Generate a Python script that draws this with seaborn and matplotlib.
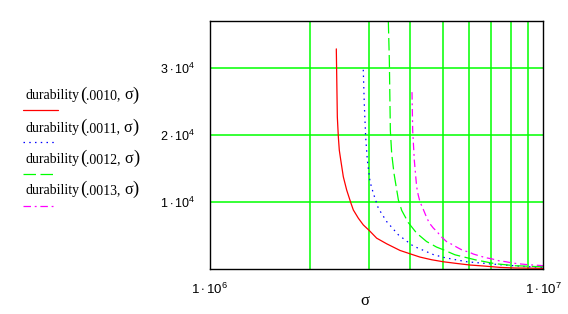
import matplotlib
matplotlib.use("Agg")
import numpy as np
import pandas as pd
import matplotlib.pyplot as plt
import seaborn as sns
from matplotlib.lines import Line2D
from matplotlib.offsetbox import TextArea, HPacker, AnchoredOffsetbox
from matplotlib.ticker import FixedLocator, FixedFormatter, NullFormatter

# ---------------- data ----------------
# sigma in units of 1e6, durability in units of 1e4
eps_labels = [".0010", ".0011", ".0012", ".0013"]

sigma_0010 = [2.395, 2.412, 2.429, 2.445, 2.47, 2.514, 2.543, 2.573, 2.651, 2.694,
              2.789, 2.886, 3.008, 3.166, 3.393, 3.72, 3.987, 4.27, 4.63, 5.02,
              5.5, 6.04, 6.62, 7.43, 8.25, 10.0]
dur_0010 = [3.284, 2.268, 1.97, 1.773, 1.624, 1.376, 1.278, 1.178, 0.98, 0.881,
            0.758, 0.658, 0.574, 0.46, 0.376, 0.277, 0.227, 0.178, 0.138, 0.108,
            0.083, 0.059, 0.045, 0.024, 0.015, 0.01]

sigma_0011 = [2.886, 2.906, 2.934, 2.968, 3.024, 3.094, 3.203, 3.393, 3.678, 4.079,
              4.686, 5.08, 5.9, 7.43, 8.92, 10.0]
dur_0011 = [2.972, 2.467, 1.97, 1.624, 1.302, 1.129, 0.906, 0.707, 0.51, 0.342,
            0.215, 0.168, 0.108, 0.064, 0.035, 0.025]

sigma_0012 = [3.432, 3.456, 3.48, 3.512, 3.569, 3.679, 3.765, 3.94, 4.174, 4.47,
              4.79, 5.02, 5.44, 6.25, 7.18, 8.25, 10.0]
dur_0012 = [3.70, 3.11, 2.07, 1.724, 1.426, 1.03, 0.874, 0.692, 0.535, 0.41,
            0.327, 0.287, 0.212, 0.138, 0.079, 0.049, 0.033]

sigma_0013 = [4.042, 4.061, 4.107, 4.174, 4.22, 4.27, 4.37, 4.44, 4.55, 4.686,
              4.8, 4.94, 5.13, 5.31, 5.53, 5.75, 6.0, 6.18, 6.47, 6.74,
              7.06, 7.37, 7.74, 8.1, 8.6, 9.04, 10.0]
dur_0013 = [2.639, 2.07, 1.624, 1.227, 1.104, 1.004, 0.89, 0.807, 0.69, 0.61,
            0.56, 0.485, 0.41, 0.371, 0.321, 0.276, 0.252, 0.223, 0.193, 0.168,
            0.148, 0.123, 0.108, 0.089, 0.074, 0.064, 0.05]

x_ticks = [1e6, 1e7]
x_tick_labels = [r"$1\cdot10^{6}$", r"$1\cdot10^{7}$"]
y_ticks = [1e4, 2e4, 3e4]
y_tick_labels = [r"$1\cdot10^{4}$", r"$2\cdot10^{4}$", r"$3\cdot10^{4}$"]

series = {
    ".0010": (sigma_0010, dur_0010),
    ".0011": (sigma_0011, dur_0011),
    ".0012": (sigma_0012, dur_0012),
    ".0013": (sigma_0013, dur_0013),
}
frames = []
for lab, (s, d) in series.items():
    frames.append(pd.DataFrame({"sigma": np.array(s) * 1e6,
                                "dur": np.array(d) * 1e4,
                                "eps": lab}))
df = pd.concat(frames, ignore_index=True)

colors = {".0010": "#FF0000", ".0011": "#0000FF", ".0012": "#00FF00", ".0013": "#FF00FF"}
dashes = {".0010": "", ".0011": (1.2, 3.4), ".0012": (10, 3.6), ".0013": (6, 3, 1.5, 3)}

# ---------------- style ----------------
sns.set_theme(style="white")
plt.rcParams["font.family"] = ["Liberation Sans", "DejaVu Sans"]
plt.rcParams["mathtext.fontset"] = "custom"
plt.rcParams["mathtext.rm"] = "Liberation Sans"
plt.rcParams["mathtext.it"] = "Liberation Sans:italic"
plt.rcParams["mathtext.bf"] = "Liberation Sans:bold"

W, H = 568, 314
fig = plt.figure(figsize=(W / 100, H / 100), dpi=100)
fig.patch.set_facecolor("white")
ax = fig.add_axes([210 / W, 1 - 269 / H, 333 / W, 248 / H])
ax.set_facecolor("white")

sns.lineplot(data=df, x="sigma", y="dur", hue="eps", style="eps",
             palette=colors, dashes=dashes, hue_order=eps_labels, style_order=eps_labels,
             estimator=None, sort=False, units="eps", legend=False, lw=0.9, ax=ax)

ax.set_xscale("log")
ax.set_xlim(1e6, 1e7)
ax.set_ylim(0, 3.7e4)

ax.xaxis.set_major_locator(FixedLocator(x_ticks))
ax.xaxis.set_major_formatter(FixedFormatter(x_tick_labels))
ax.xaxis.set_minor_locator(FixedLocator([k * 1e6 for k in range(2, 10)]))
ax.xaxis.set_minor_formatter(NullFormatter())
ax.yaxis.set_major_locator(FixedLocator(y_ticks))
ax.yaxis.set_major_formatter(FixedFormatter(y_tick_labels))
ax.yaxis.set_minor_locator(FixedLocator([]))

ax.tick_params(axis="both", which="both", length=0)
ax.tick_params(axis="y", pad=11, labelsize=9, labelcolor="black")
ax.tick_params(axis="x", pad=9, labelsize=9.5, labelcolor="black")

ax.grid(False)
ax.grid(True, which="minor", axis="x", color="#00FF00", lw=1.1)
ax.grid(True, which="major", axis="y", color="#00FF00", lw=1.1)
ax.set_axisbelow(True)

for sp in ax.spines.values():
    sp.set_visible(True)
    sp.set_color("black")
    sp.set_linewidth(1.0)

ax.set_xlabel("σ", family=["Liberation Serif", "DejaVu Serif"], fontsize=12, color="black")
ax.xaxis.set_label_coords((365 - 210) / 333, -(293 - 269) / 248)
ax.set_ylabel("")

# ---------------- legend (text above line sample) ----------------
serif = ["Liberation Serif", "DejaVu Serif"]
text_bottoms = [103.5, 135.8, 166.8, 198.5]
line_ys = [110, 142, 174, 206]
line_ends = [58, 55, 57, 55]
for lab, yb, yl, xe in zip(eps_labels, text_bottoms, line_ys, line_ends):
    pack = HPacker(children=[
        TextArea("durability", textprops=dict(family=serif, size=10, color="black")),
        TextArea("(", textprops=dict(family=serif, size=13.5, color="black")),
        TextArea(lab + ", ", textprops=dict(family=serif, size=10, color="black")),
        TextArea("σ", textprops=dict(family=serif, size=11.5, color="black")),
        TextArea(")", textprops=dict(family=serif, size=13.5, color="black")),
    ], align="baseline", pad=0, sep=0)
    box = AnchoredOffsetbox(loc="lower left", child=pack, pad=0, borderpad=0,
                            frameon=False, bbox_to_anchor=(26 / W, 1 - yb / H),
                            bbox_transform=fig.transFigure)
    fig.add_artist(box)
    d = dashes[lab]
    ln = Line2D([23 / W, xe / W], [1 - yl / H, 1 - yl / H], transform=fig.transFigure,
                color=colors[lab], lw=0.9)
    if d:
        ln.set_dashes(d)
    fig.add_artist(ln)

fig.savefig("out.png", dpi=100, facecolor="white")
